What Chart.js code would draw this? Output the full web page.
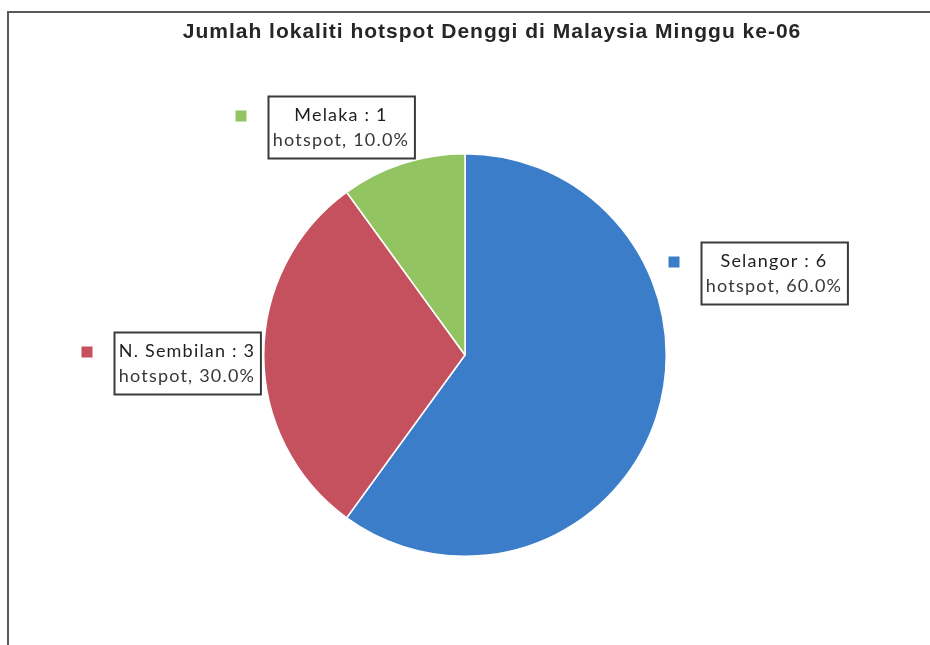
<!DOCTYPE html>
<html>
<head>
<meta charset="utf-8">
<script src="https://cdn.jsdelivr.net/npm/chart.js@4.4.1/dist/chart.umd.min.js"></script>
<style>
  html, body { margin: 0; padding: 0; background: #fff; overflow: hidden; }
  #frame {
    position: absolute; left: 7px; top: 11px; width: 966px; height: 660px;
    border-top: 2px solid #5a5a5a; border-left: 2px solid #5a5a5a;
  }
</style>
</head>
<body>
<div id="frame"><canvas id="chart_hotspot"></canvas></div>
<script>
// data
var states = ['Selangor', 'N. Sembilan', 'Melaka'];
var hotspots = [6, 3, 1];
var sliceColours = ['#3b7dc8', '#c5505e', '#93c462'];
var chartTitle = 'Jumlah lokaliti hotspot Denggi di Malaysia Minggu ke-06';

// label box centre, relative to the pie centre (manual placement like in Excel)
var labelOffsets = [[309, -82], [-278, 8], [-124, -228]];

var total = hotspots.reduce(function (a, b) { return a + b; }, 0);

var titlePlugin = {
    id: 'stretchedTitle',
    afterDraw: function (chart) {
        var ctx = chart.ctx;
        ctx.save();
        ctx.font = 'bold 21px "Liberation Sans"';
        ctx.letterSpacing = '1px';
        ctx.fillStyle = '#262626';
        ctx.textAlign = 'center';
        ctx.textBaseline = 'alphabetic';
        ctx.fillText(chartTitle, chart.width / 2, 25);
        ctx.restore();
    }
};

var labelPlugin = {
    id: 'boxLabels',
    afterDraw: function (chart) {
        var ctx = chart.ctx;
        var meta = chart.getDatasetMeta(0);
        ctx.save();
        ctx.font = '18px Lato';
        ctx.letterSpacing = '1.2px';
        meta.data.forEach(function (arc, i) {
            var line1 = states[i] + ' : ' + hotspots[i];
            var line2 = 'hotspot, ' + (hotspots[i] / total * 100).toFixed(1) + '%';
            var w = Math.max(ctx.measureText(line1).width, ctx.measureText(line2).width) + 10;
            var h = 62;
            var cx = arc.x + labelOffsets[i][0];
            var cy = arc.y + labelOffsets[i][1];
            var left = Math.round(cx - w / 2) + 0.5;
            var top = Math.round(cy - h / 2) + 0.5;
            ctx.fillStyle = '#ffffff';
            ctx.fillRect(left, top, w, h);
            ctx.strokeStyle = '#3a3a3a';
            ctx.lineWidth = 2;
            ctx.strokeRect(left, top, w, h);
            ctx.textAlign = 'center';
            ctx.textBaseline = 'middle';
            ctx.fillStyle = '#1e1e1e';
            ctx.fillText(line1, cx, top + 19);
            ctx.fillStyle = '#383838';
            ctx.fillText(line2, cx, top + 44);
            // legend key
            ctx.fillStyle = sliceColours[i];
            ctx.fillRect(left - 33, top + 14, 11, 11);
        });
        ctx.restore();
    }
};

var chart_hotspot = new Chart(document.getElementById('chart_hotspot'), {
    type: 'pie',
    data: {
        labels: states,
        datasets: [{
            data: hotspots,
            backgroundColor: sliceColours,
            borderColor: '#ffffff',
            borderWidth: 1.5
        }]
    },
    options: {
        animation: false,
        responsive: true,
        maintainAspectRatio: false,
        layout: {
            padding: { left: 0, right: 54, top: 140, bottom: 116 }
        },
        plugins: {
            legend: { display: false },
            tooltip: { enabled: false },
            title: { display: false }
        }
    },
    plugins: [titlePlugin, labelPlugin]
});
</script>
</body>
</html>
